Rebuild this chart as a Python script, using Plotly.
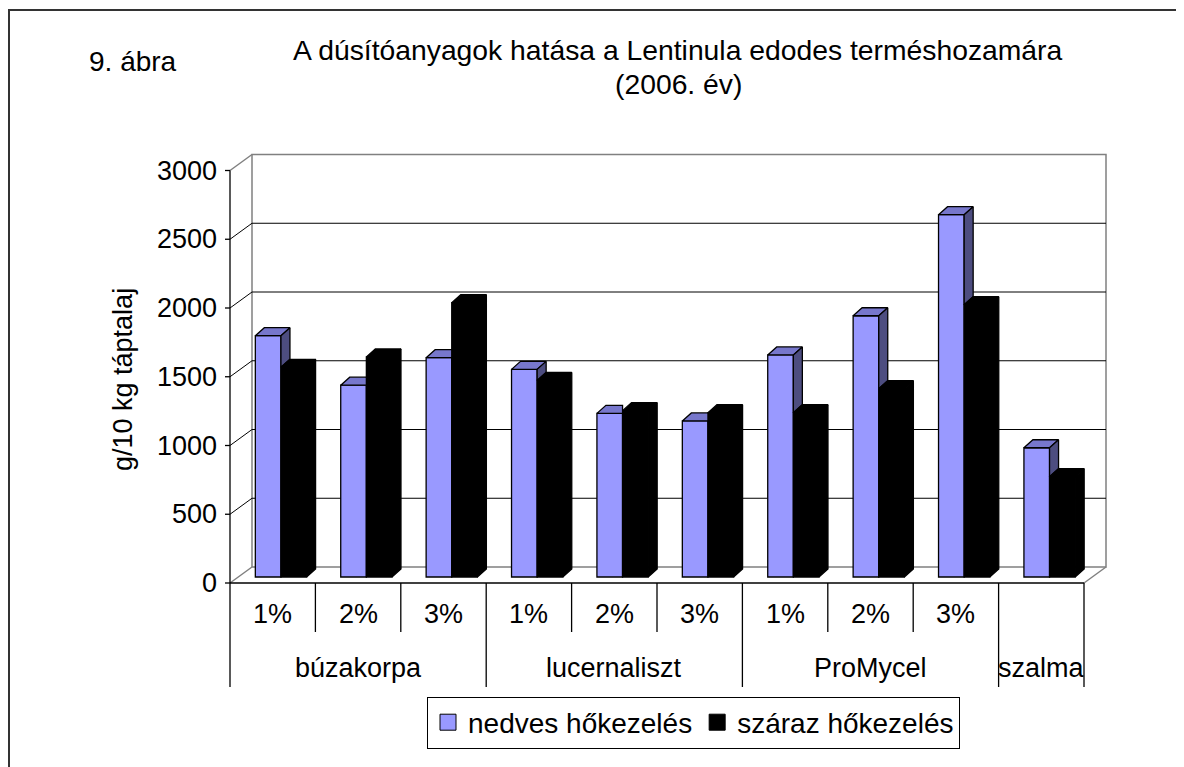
import plotly.graph_objects as go

# ---------------- data ----------------
categories = ["1%", "2%", "3%", "1%", "2%", "3%", "1%", "2%", "3%", ""]
groups = ["búzakorpa", "lucernaliszt", "ProMycel", "szalma"]
group_sizes = [3, 3, 3, 1]
nedves = [1755, 1395, 1595, 1510, 1190, 1135, 1615, 1900, 2635, 940]
szaraz = [1525, 1600, 1995, 1430, 1210, 1195, 1195, 1370, 1980, 730]
y_ticks = [0, 500, 1000, 1500, 2000, 2500, 3000]
series_names = ["nedves hőkezelés", "száraz hőkezelés"]
title_line1 = "A dúsítóanyagok hatása a Lentinula edodes terméshozamára"
title_line2 = "(2006. év)"
figure_label = "9. ábra"
y_title = "g/10 kg táptalaj"

# ---------------- geometry / style ----------------
W, H = 1184, 767
OFF = 8            # page body margin of the html page
PX = 85.4          # pixels per category
PY = 0.1375        # pixels per value unit
X0, Y0 = 230, 583  # front axis origin (screen pixels)


def xd(px):
    return (px - X0) / PX


def yd(py):
    return (Y0 - py) / PY


n = len(categories)
DX, DY = xd(252), yd(567)       # depth of the plot box
BX, BY = 8.25 / PX, yd(577)     # bar front position inside depth
BW = 0.30                        # bar width (category units)
SDX, SDY = 9 / PX, 8 / PY        # bar depth
FONT = "Liberation Sans, Arial, sans-serif"
BLUE, BLUE_TOP, BLUE_SIDE = "#9999FF", "#7777CC", "#4D4D80"
EDGE = dict(color="black", width=1.3)
GRAY = "#808080"

fig = go.Figure()

# front faces as bars
blue_x = [i + 0.5 + BX - BW / 2 for i in range(n)]
black_x = [i + 0.5 + BX + BW / 2 for i in range(n)]
fig.add_trace(go.Bar(x=blue_x, y=nedves, base=BY, width=BW, name=series_names[0],
                     marker=dict(color=BLUE, line=EDGE), showlegend=False))
fig.add_trace(go.Bar(x=black_x, y=szaraz, base=BY, width=BW, name=series_names[1],
                     marker=dict(color="black", line=EDGE), showlegend=False))

# 3D faces (top / side) computed from the data
bt_x, bt_y, bs_x, bs_y, kt_x, kt_y, ks_x, ks_y = ([] for _ in range(8))
for i, (v1, v2) in enumerate(zip(nedves, szaraz)):
    c = i + 0.5 + BX
    b0, b1, k1 = c - BW, c, c + BW
    t1, t2 = BY + v1, BY + v2
    if v1 >= v2:
        bt_x += [b0, b1, b1 + SDX, b0 + SDX, b0, None]
        bt_y += [t1, t1, t1 + SDY, t1 + SDY, t1, None]
        bs_x += [b1, b1, b1 + SDX, b1 + SDX, b1, None]
        bs_y += [t2, t1, t1 + SDY, t2 + SDY, t2, None]
    else:
        bt_x += [b0, b1, b1, b0 + SDX, b0, None]
        bt_y += [t1, t1, t1 + SDY, t1 + SDY, t1, None]
    kt_x += [b1, k1, k1 + SDX, b1 + SDX, b1, None]
    kt_y += [t2, t2, t2 + SDY, t2 + SDY, t2, None]
    ks_x += [k1, k1, k1 + SDX, k1 + SDX, k1, None]
    ks_y += [BY, t2, t2 + SDY, BY + SDY, BY, None]

for fx, fy, col in [(bt_x, bt_y, BLUE_TOP), (bs_x, bs_y, BLUE_SIDE),
                    (kt_x, kt_y, "black"), (ks_x, ks_y, "black")]:
    fig.add_trace(go.Scatter(x=fx, y=fy, mode="lines", fill="toself", fillcolor=col,
                             line=EDGE, showlegend=False, hoverinfo="skip"))

# legend entries (square swatches like the original)
for name, col in zip(series_names, [BLUE, "black"]):
    fig.add_trace(go.Scatter(x=[None], y=[None], mode="markers", name=name,
                             marker=dict(symbol="square", size=16, color=col,
                                         line=dict(color="black", width=1))))

shapes = []
vmax = y_ticks[-1]
# back wall + floor back edge
shapes.append(dict(type="rect", x0=DX, y0=DY, x1=n + DX, y1=vmax + DY,
                   line=dict(color=GRAY, width=1.5), layer="below"))
for v in y_ticks[1:-1]:
    shapes.append(dict(type="line", x0=DX, y0=v + DY, x1=n + DX, y1=v + DY,
                       line=dict(color="black", width=1), layer="below"))
    shapes.append(dict(type="line", x0=0, y0=v, x1=DX, y1=v + DY,
                       line=dict(color="black", width=1), layer="below"))
shapes.append(dict(type="line", x0=0, y0=vmax, x1=DX, y1=vmax + DY,
                   line=dict(color=GRAY, width=1.5), layer="below"))
shapes.append(dict(type="line", x0=0, y0=0, x1=DX, y1=DY,
                   line=dict(color=GRAY, width=1.5), layer="below"))
shapes.append(dict(type="line", x0=n, y0=0, x1=n + DX, y1=DY,
                   line=dict(color=GRAY, width=1.5), layer="below"))
# value axis
shapes.append(dict(type="line", x0=0, y0=0, x1=0, y1=vmax, line=dict(color="black", width=1.3)))
for v in y_ticks:
    shapes.append(dict(type="line", x0=xd(225), y0=v, x1=0, y1=v,
                       line=dict(color="black", width=1.3)))
# category axis + table lines
shapes.append(dict(type="line", x0=0, y0=0, x1=n, y1=0, line=dict(color="black", width=1.3)))
bounds = [0]
for s in group_sizes:
    bounds.append(bounds[-1] + s)
for k in range(n + 1):
    ybot = yd(687) if k in bounds else yd(632)
    shapes.append(dict(type="line", x0=k, y0=0, x1=k, y1=ybot,
                       line=dict(color="black", width=1.3)))
# outer frame (paper)
shapes.append(dict(type="line", xref="paper", yref="paper", x0=1 / W, y0=0, x1=1 / W, y1=1 - 2 / H,
                   line=dict(color="#333333", width=2)))
shapes.append(dict(type="line", xref="paper", yref="paper", x0=0, y0=1 - 2 / H, x1=1, y1=1 - 2 / H,
                   line=dict(color="#333333", width=2)))

annotations = []
for v in y_ticks:
    annotations.append(dict(x=xd(219), y=v, text=str(v), xanchor="right", yanchor="middle",
                            showarrow=False, font=dict(size=27)))
for i, c in enumerate(categories):
    if c:
        annotations.append(dict(x=i + 0.5, y=yd(614), text=c, xanchor="center", yanchor="middle",
                                showarrow=False, font=dict(size=27)))
for g, a, b in zip(groups, bounds[:-1], bounds[1:]):
    annotations.append(dict(x=(a + b) / 2, y=yd(668), text=g, xanchor="center", yanchor="middle",
                            showarrow=False, font=dict(size=27)))
annotations.append(dict(x=xd(123), y=yd(380), text=y_title, textangle=-90, showarrow=False,
                        xanchor="center", yanchor="middle", font=dict(size=27)))
annotations.append(dict(x=xd(678), y=yd(50), text=title_line1, showarrow=False,
                        xanchor="center", yanchor="middle", font=dict(size=28.3)))
annotations.append(dict(x=xd(678), y=yd(84), text=title_line2, showarrow=False,
                        xanchor="center", yanchor="middle", font=dict(size=28.3)))
annotations.append(dict(x=xd(133), y=yd(61), text=figure_label, showarrow=False,
                        xanchor="center", yanchor="middle", font=dict(size=28)))

fig.update_layout(
    width=W, height=H, autosize=False,
    margin=dict(l=0, r=0, t=0, b=0),
    paper_bgcolor="white", plot_bgcolor="white",
    font=dict(family=FONT, color="black"),
    barmode="overlay",
    xaxis=dict(range=[xd(OFF), xd(OFF + W)], visible=False, fixedrange=True),
    yaxis=dict(range=[yd(OFF + H), yd(OFF)], visible=False, fixedrange=True),
    shapes=shapes, annotations=annotations,
    showlegend=True,
    legend=dict(orientation="h", x=(693.5 - OFF) / W, y=(H - (722.5 - OFF)) / H,
                xanchor="center", yanchor="middle",
                font=dict(size=28), bordercolor="black", borderwidth=1, bgcolor="white"),
)

fig.write_html("out.html")
